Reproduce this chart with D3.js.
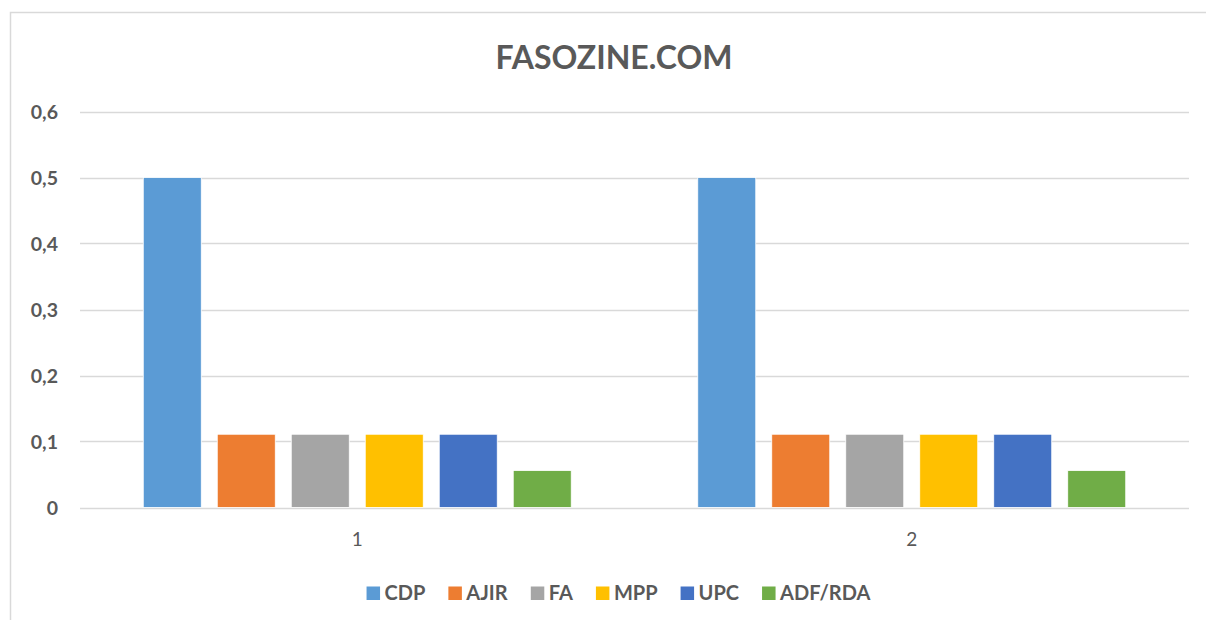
<!DOCTYPE html>
<html>
<head>
<meta charset="utf-8">
<style>
  body { margin: 0; background: #fff; }
  svg text { font-family: Lato, "Open Sans", sans-serif; fill: #595959; }
  .grid line { stroke: #d9d9d9; stroke-width: 1.3; }
</style>
</head>
<body>
<svg id="chart" width="1206" height="620"></svg>
<script src="https://cdnjs.cloudflare.com/ajax/libs/d3/7.8.5/d3.min.js"></script>
<script>
// data
var categories = ["1", "2"];
var parties = ["CDP", "AJIR", "FA", "MPP", "UPC", "ADF/RDA"];
var colors = ["#5b9bd5", "#ed7d31", "#a5a5a5", "#ffc000", "#4472c4", "#70ad47"];
var values1 = [0.5, 0.111, 0.111, 0.111, 0.111, 0.056];
var values2 = [0.5, 0.111, 0.111, 0.111, 0.111, 0.056];
var yTicks = [0, 0.1, 0.2, 0.3, 0.4, 0.5, 0.6];
var title = "FASOZINE.COM";

var series = [values1, values2];
var svg = d3.select("#chart");

// chart frame (runs off the right and bottom like the screenshot)
svg.append("rect")
  .attr("x", 10.5).attr("y", 12.5)
  .attr("width", 1210).attr("height", 620)
  .attr("fill", "none").attr("stroke", "#d9d9d9").attr("stroke-width", 1.5);

var plotL = 80, plotR = 1189, plotT = 111.5, plotB = 507.5;

var x0 = d3.scaleBand().domain(categories).range([plotL, plotR]).padding(0);
var x1 = d3.scaleBand().domain(parties).range([0, x0.bandwidth()])
  .paddingInner(0.216).paddingOuter(0.855);
var y = d3.scaleLinear().domain([0, 0.6]).range([plotB, plotT]);
var color = d3.scaleOrdinal().domain(parties).range(colors);

svg.append("text")
  .attr("x", 614).attr("y", 69)
  .attr("text-anchor", "middle")
  .style("font-size", "32px").style("font-weight", "bold")
  .text(title);

// gridlines
svg.append("g").attr("class", "grid")
  .selectAll("line").data(yTicks).enter().append("line")
  .attr("x1", plotL).attr("x2", plotR)
  .attr("y1", function(d) { return Math.round(y(d)) + 0.5; })
  .attr("y2", function(d) { return Math.round(y(d)) + 0.5; });

// y axis labels
var yAxis = d3.axisLeft(y).tickValues(yTicks).tickSize(0).tickPadding(0)
  .tickFormat(function(d) { return d === 0 ? "0" : d3.format(".1f")(d).replace(".", ","); });
var gy = svg.append("g").attr("transform", "translate(58,0)").call(yAxis);
gy.select(".domain").remove();
gy.selectAll("text").style("font-size", "19.5px").style("font-weight", "bold")
  .attr("fill", "#595959").attr("dy", "0.35em");

// bars
var groups = svg.append("g").selectAll("g").data(categories).enter().append("g")
  .attr("transform", function(d) { return "translate(" + x0(d) + ",0)"; });

groups.selectAll("rect")
  .data(function(d, i) { return parties.map(function(p, j) { return { p: p, v: series[i][j] }; }); })
  .enter().append("rect")
  .attr("x", function(d) { return x1(d.p); })
  .attr("width", x1.bandwidth())
  .attr("y", function(d) { return y(d.v); })
  .attr("height", function(d) { return y(0) - y(d.v); })
  .attr("fill", function(d) { return color(d.p); })
  .attr("stroke", "#fff").attr("stroke-width", 0.8);

// x axis labels
var xAxis = d3.axisBottom(x0).tickSize(0).tickPadding(0);
var gx = svg.append("g").attr("transform", "translate(0," + plotB + ")").call(xAxis);
gx.select(".domain").remove();
gx.selectAll("text").style("font-size", "19px").attr("fill", "#595959")
  .attr("y", 38).attr("dy", 0);

// legend
var legend = svg.append("g");
var item = legend.selectAll("g").data(parties).enter().append("g");
item.append("rect").attr("width", 13.5).attr("height", 13.5)
  .attr("y", 586.5).attr("fill", function(d) { return color(d); });
item.append("text").attr("x", 18).attr("y", 600)
  .style("font-size", "20px").style("font-weight", "bold")
  .text(function(d) { return d; });

var gap = 23;
var pos = 0;
item.each(function() {
  var w = this.getBBox().width;
  d3.select(this).attr("transform", "translate(" + pos + ",0)");
  pos += w + gap;
});
var total = pos - gap;
legend.attr("transform", "translate(" + (618.5 - total / 2) + ",0)");
</script>
</body>
</html>
